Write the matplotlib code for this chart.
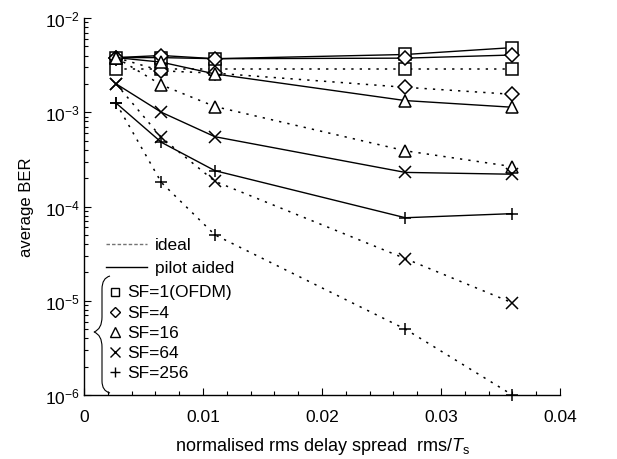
import numpy as np
import matplotlib
matplotlib.use("Agg")
import matplotlib.pyplot as plt
from matplotlib.path import Path
from matplotlib.patches import PathPatch
from matplotlib.ticker import MultipleLocator, LogLocator, NullFormatter

plt.rcParams["font.family"] = "Liberation Sans"
plt.rcParams["mathtext.fontset"] = "custom"
plt.rcParams["mathtext.rm"] = "Liberation Sans"
plt.rcParams["mathtext.it"] = "Liberation Sans:italic"

# normalised rms delay spread
delay = [0.0027, 0.0065, 0.011, 0.027, 0.036]

sf_labels = ["SF=1(OFDM)", "SF=4", "SF=16", "SF=64", "SF=256"]
sf_markers = ["s", "D", "^", "x", "+"]

# pilot aided (solid)
ber_pilot = [
    [3.8e-3, 3.8e-3, 3.7e-3, 4.1e-3, 4.85e-3],
    [3.8e-3, 4.0e-3, 3.7e-3, 3.75e-3, 4.05e-3],
    [3.8e-3, 3.4e-3, 2.55e-3, 1.33e-3, 1.13e-3],
    [2.0e-3, 1.0e-3, 5.5e-4, 2.3e-4, 2.2e-4],
    [1.25e-3, 4.8e-4, 2.4e-4, 7.6e-5, 8.4e-5],
]
# ideal (dotted)
ber_ideal = [
    [2.85e-3, 2.85e-3, 2.85e-3, 2.85e-3, 2.85e-3],
    [3.8e-3, 2.75e-3, 2.6e-3, 1.84e-3, 1.55e-3],
    [3.8e-3, 1.95e-3, 1.15e-3, 3.9e-4, 2.65e-4],
    [2.0e-3, 5.4e-4, 1.85e-4, 2.8e-5, 9.5e-6],
    [1.25e-3, 1.8e-4, 5.0e-5, 5.0e-6, 1.0e-6],
]

W, H = 617, 460
fig = plt.figure(figsize=(W / 100, H / 100), dpi=100)
x0, x1, y0, y1 = 84, 560, 19, 396
ax = fig.add_axes([x0 / W, 1 - y1 / H, (x1 - x0) / W, (y1 - y0) / H])


def px(xp, yp):
    # pixel position -> axes fraction
    return (xp - x0) / (x1 - x0), (y1 - yp) / (y1 - y0)


msize = {"s": 8, "D": 7, "^": 8.5, "x": 8.5, "+": 9}
for i in range(5):
    m = sf_markers[i]
    ax.plot(delay, ber_ideal[i], color="black", lw=1.1, ls=(0, (1.5, 4)),
            marker=m, ms=msize[m], mfc="white", mec="black", mew=1.1, clip_on=False)
    ax.plot(delay, ber_pilot[i], color="black", lw=1.0, ls="-",
            marker=m, ms=msize[m], mfc="white", mec="black", mew=1.1, clip_on=False)

ax.set_yscale("log")
ax.set_xlim(0, 0.04)
ax.set_ylim(1e-6, 1e-2)
ax.xaxis.set_major_locator(MultipleLocator(0.01))
ax.xaxis.set_minor_locator(MultipleLocator(0.002))
ax.xaxis.set_major_formatter(matplotlib.ticker.FuncFormatter(lambda v, p: "0" if v == 0 else f"{v:.2f}"))
ax.yaxis.set_major_locator(LogLocator(base=10, numticks=10))
ax.yaxis.set_minor_locator(LogLocator(base=10, subs=np.arange(2, 10), numticks=20))
ax.yaxis.set_minor_formatter(NullFormatter())

for s in ["top", "right"]:
    ax.spines[s].set_visible(False)
ax.spines["left"].set_linewidth(1.0)
ax.spines["bottom"].set_linewidth(1.0)
ax.tick_params(which="both", direction="in", top=False, right=False, labelsize=12.5, width=0.8)
ax.tick_params(which="major", length=5)
ax.tick_params(which="minor", length=3)
ax.tick_params(axis="x", which="major", pad=10)
ax.tick_params(axis="y", which="major", pad=3)

ax.set_ylabel("average BER", fontsize=12, labelpad=8)
ax.set_xlabel(r"normalised rms delay spread  rms/$\mathit{T}_{\rm s}$", fontsize=13, labelpad=8)

# legend drawn by hand
lx, ly = px(106, 245)
lx2, _ = px(147, 245)
ax.plot([lx, lx2], [ly, ly], transform=ax.transAxes, color="0.45", lw=1.0, ls=(0, (2.5, 1.5)))
ax.text(*px(155, 245), "ideal", transform=ax.transAxes, fontsize=12.5, va="center")
lx, ly = px(106, 268)
ax.plot([lx, lx2], [ly, ly], transform=ax.transAxes, color="black", lw=1.0)
ax.text(*px(155, 268), "pilot aided", transform=ax.transAxes, fontsize=12.5, va="center")

leg_y = [293, 313, 333, 353, 373]
for m, lab, yy in zip(sf_markers, sf_labels, leg_y):
    mx, my = px(115, yy)
    ax.plot([mx], [my], transform=ax.transAxes, marker=m, ms=msize[m] * 0.8,
            mfc="white", mec="black", mew=1.0, ls="none", clip_on=False)
    ax.text(*px(127, yy), lab, transform=ax.transAxes, fontsize=12.5, va="center")

brace_px = [(110, 277), (102, 279), (102, 290), (102, 318), (102, 330), (94, 333),
            (102, 336), (102, 348), (102, 382), (102, 392), (110, 394)]
codes = [Path.MOVETO, Path.CURVE3, Path.CURVE3, Path.LINETO, Path.CURVE3, Path.CURVE3,
         Path.CURVE3, Path.CURVE3, Path.LINETO, Path.CURVE3, Path.CURVE3]
brace = Path([px(*p) for p in brace_px], codes)
ax.add_patch(PathPatch(brace, transform=ax.transAxes, fc="none", ec="black", lw=0.8, clip_on=False))

fig.savefig("out.png", dpi=100)
